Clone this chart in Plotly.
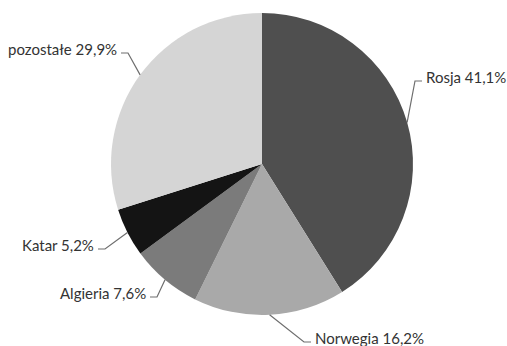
import math
import plotly.graph_objects as go

# Data
countries = ["Rosja", "Norwegia", "Algieria", "Katar", "pozostałe"]
shares = [41.1, 16.2, 7.6, 5.2, 29.9]
colors = ["#4f4f4f", "#a9a9a9", "#7b7b7b", "#141414", "#d5d5d5"]

W, H = 507, 346
CX, CY, R = 262, 164, 151  # pie geometry in page pixels

# label text anchor positions (page pixels) and sides
label_pos = {
    "Rosja": (424, 77, "left"),
    "Norwegia": (313, 338, "left"),
    "Algieria": (148, 293, "right"),
    "Katar": (96, 245, "right"),
    "pozostałe": (119, 49, "right"),
}

def px(x):
    return x / W

def py(y):
    return 1 - y / H

fig = go.Figure(go.Pie(
    labels=countries,
    values=shares,
    sort=False,
    direction="clockwise",
    rotation=0,
    marker=dict(colors=colors, line=dict(width=0)),
    textinfo="none",
    hoverinfo="label+percent",
    showlegend=False,
    domain=dict(x=[px(CX - R), px(CX + R)], y=[py(CY + R), py(CY - R)]),
))

annotations = []
shapes = []
total = sum(shares)
cum = 0.0
for name, v in zip(countries, shares):
    mid = (cum + v / 2) / total * 2 * math.pi
    cum += v
    ex = CX + R * math.sin(mid)
    ey = CY - R * math.cos(mid)
    lx, ly, side = label_pos[name]
    text = f"{name} {str(v).replace('.', ',')}%"
    annotations.append(dict(
        x=px(lx), y=py(ly), xref="paper", yref="paper",
        text=text, showarrow=False,
        xanchor="left" if side == "left" else "right", yanchor="middle",
        font=dict(family="Lato, Open Sans, sans-serif", size=15, color="#333333"),
    ))
    # elbow leader line
    hy = ly + 4
    if side == "left":
        hx0, hx1 = lx - 2, lx - 9
    else:
        hx0, hx1 = lx + 2, lx + 9
    path = f"M {px(hx0)},{py(hy)} L {px(hx1)},{py(hy)} L {px(ex)},{py(ey)}"
    shapes.append(dict(type="path", path=path, xref="paper", yref="paper",
                       line=dict(color="#6e6e6e", width=1.2)))

fig.update_layout(
    width=W, height=H,
    margin=dict(l=0, r=0, t=0, b=0),
    paper_bgcolor="white",
    plot_bgcolor="white",
    annotations=annotations,
    shapes=shapes,
)

fig.write_html(
    "out.html",
    config={"displayModeBar": False},
    post_script="document.body.style.margin='0';document.body.style.overflow='hidden';",
)
